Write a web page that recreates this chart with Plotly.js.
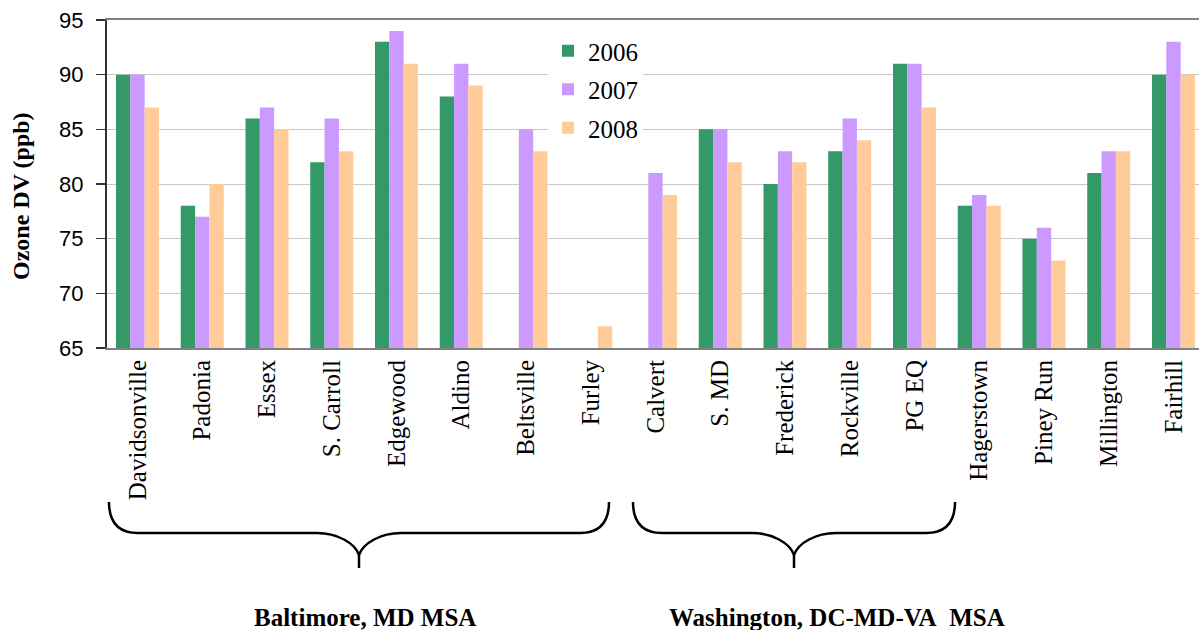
<!DOCTYPE html>
<html>
<head>
<meta charset="utf-8">
<script src="https://cdn.plot.ly/plotly-3.0.1.min.js"></script>
<style>
  html, body { margin: 0; padding: 0; background: #ffffff; }
  #chart { width: 1199px; height: 630px; }
</style>
</head>
<body>
<div id="chart"></div>
<script>
// Monitoring sites, Baltimore MSA first, then Washington MSA
const sites = ["Davidsonville", "Padonia", "Essex", "S. Carroll", "Edgewood", "Aldino",
  "Beltsville", "Furley", "Calvert", "S. MD", "Frederick", "Rockville", "PG EQ",
  "Hagerstown", "Piney Run", "Millington", "Fairhill"];

// Ozone design values (ppb); null = no value for that year
const dv2006 = [90, 78, 86, 82, 93, 88, null, null, null, 85, 80, 83, 91, 78, 75, 81, 90];
const dv2007 = [90, 77, 87, 86, 94, 91, 85, null, 81, 85, 83, 86, 91, 79, 76, 83, 93];
const dv2008 = [87, 80, 85, 83, 91, 89, 83, 67, 79, 82, 82, 84, 87, 78, 73, 83, 90];

const seriesNames = ["2006", "2007", "2008"];
const seriesColors = ["#339966", "#CC99FF", "#FFCC99"];

const yTicks = [65, 70, 75, 80, 85, 90, 95];

const groupLabels = ["Baltimore, MD MSA", "Washington, DC-MD-VA\u00a0 MSA"];

// Page geometry
const W = 1199, H = 630;
const M = { l: 107, r: 0, t: 20, b: 282 };
const plotW = W - M.l - M.r;
const plotH = H - M.t - M.b;
const px = x => (x - M.l) / plotW;          // pixel x -> paper x
const py = y => (H - M.b - y) / plotH;       // pixel y -> paper y

// Curly brace below the category labels
function brace(xL, xR, yTop, yMid, yTip) {
  const tip = (xL + xR) / 2;
  const r = 29, k = 42;
  const P = (x, y) => px(x).toFixed(5) + "," + py(y).toFixed(5);
  return "M" + P(xL, yTop) +
    " Q" + P(xL, yMid) + " " + P(xL + r, yMid) +
    " L" + P(tip - k, yMid) +
    " C" + P(tip - 22, yMid) + " " + P(tip - 4, yMid + 10) + " " + P(tip, yMid + 22) +
    " L" + P(tip, yTip) +
    " M" + P(tip, yMid + 22) +
    " C" + P(tip + 4, yMid + 10) + " " + P(tip + 22, yMid) + " " + P(tip + k, yMid) +
    " L" + P(xR - r, yMid) +
    " Q" + P(xR, yMid) + " " + P(xR, yTop);
}

const traces = [dv2006, dv2007, dv2008].map((vals, i) => ({
  type: "bar",
  name: seriesNames[i],
  x: sites,
  y: vals,
  base: 0,
  marker: { color: seriesColors[i], line: { width: 0 } },
  legendgroup: seriesNames[i],
  hoverinfo: "x+y+name"
}));

const serif = "'Liberation Serif', 'Times New Roman', Times, serif";
const sans = "'Liberation Sans', Arial, Helvetica, sans-serif";

const layout = {
  width: W,
  height: H,
  margin: M,
  paper_bgcolor: "#ffffff",
  plot_bgcolor: "#ffffff",
  barmode: "group",
  bargap: 0.336,
  bargroupgap: 0,
  showlegend: true,
  legend: {
    x: px(548), xanchor: "left",
    y: py(28), yanchor: "top",
    bgcolor: "#ffffff",
    borderwidth: 0,
    font: { family: serif, size: 25, color: "#000000" },
    tracegroupgap: 3,
    itemclick: false,
    itemdoubleclick: false
  },
  xaxis: {
    type: "category",
    range: [-0.471, 16.394],
    showline: true,
    linecolor: "#808080",
    linewidth: 2,
    mirror: true,
    ticks: "",
    showgrid: false,
    tickangle: -90,
    tickfont: { family: serif, size: 25, color: "#000000" },
    fixedrange: true
  },
  yaxis: {
    range: [65, 95],
    tickvals: yTicks,
    ticktext: yTicks.map(String),
    showline: true,
    linecolor: "#333333",
    linewidth: 2,
    ticks: "outside",
    ticklen: 9,
    tickwidth: 1.5,
    tickcolor: "#333333",
    ticklabelposition: "outside",
    ticklabelstandoff: 8,
    showgrid: true,
    gridcolor: "#c8c8c8",
    gridwidth: 1,
    zeroline: false,
    tickfont: { family: sans, size: 22, color: "#000000" },
    fixedrange: true
  },
  shapes: [
    { type: "path", xref: "paper", yref: "paper", path: brace(109, 609, 502, 533, 568),
      line: { color: "#000000", width: 2.5 } },
    { type: "path", xref: "paper", yref: "paper", path: brace(633, 955, 502, 533, 568),
      line: { color: "#000000", width: 2.5 } }
  ],
  annotations: [
    { text: "<b>Ozone DV (ppb)</b>", xref: "paper", yref: "paper",
      x: px(21), y: py(196), xanchor: "center", yanchor: "middle",
      textangle: -90, showarrow: false,
      font: { family: serif, size: 24, color: "#000000" } },
    { text: "<b>" + groupLabels[0] + "</b>", xref: "paper", yref: "paper",
      x: px(365), y: py(617), xanchor: "center", yanchor: "middle", showarrow: false,
      font: { family: serif, size: 25, color: "#000000" } },
    { text: "<b>" + groupLabels[1] + "</b>", xref: "paper", yref: "paper",
      x: px(837), y: py(617), xanchor: "center", yanchor: "middle", showarrow: false,
      font: { family: serif, size: 25, color: "#000000" } }
  ]
};

Plotly.newPlot("chart", traces, layout, { displayModeBar: false, staticPlot: true });
</script>
</body>
</html>
